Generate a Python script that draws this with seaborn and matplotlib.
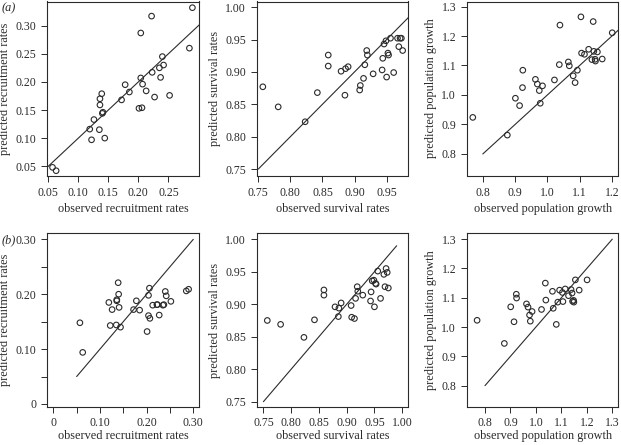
import numpy as np
import pandas as pd
import matplotlib
matplotlib.use("Agg")
import matplotlib.pyplot as plt
import seaborn as sns

sns.set_style("ticks")
plt.rcParams['font.family'] = ['Liberation Serif', 'DejaVu Serif']
plt.rcParams['font.size'] = 8.5

# observed values (shared by both rows)
obs_rec = [0.057, 0.063, 0.119, 0.122, 0.126, 0.135, 0.136, 0.136, 0.139, 0.140, 0.141, 0.144,
           0.172, 0.178, 0.185, 0.201, 0.204, 0.204, 0.206, 0.207, 0.213, 0.222, 0.223, 0.227,
           0.235, 0.237, 0.240, 0.242, 0.252, 0.285, 0.290]
obs_surv = [0.757, 0.781, 0.823, 0.842, 0.859, 0.859, 0.879, 0.885, 0.886, 0.890, 0.908, 0.909,
            0.914, 0.916, 0.919, 0.920, 0.929, 0.943, 0.944, 0.946, 0.949, 0.950, 0.952, 0.953,
            0.956, 0.961, 0.967, 0.969, 0.971, 0.973, 0.975]
obs_grow = [0.769, 0.876, 0.901, 0.914, 0.924, 0.923, 0.963, 0.969, 0.975, 0.978, 0.985, 1.022,
            1.037, 1.039, 1.065, 1.068, 1.080, 1.086, 1.093, 1.104, 1.106, 1.115, 1.128, 1.138,
            1.142, 1.144, 1.148, 1.149, 1.155, 1.170, 1.201]

# (a) predicted
pred_rec_a = [0.048, 0.042, 0.116, 0.097, 0.133, 0.115, 0.170, 0.159, 0.179, 0.144, 0.146, 0.100,
              0.168, 0.195, 0.182, 0.153, 0.287, 0.207, 0.154, 0.196, 0.184, 0.317, 0.217, 0.173,
              0.225, 0.208, 0.245, 0.230, 0.176, 0.260, 0.332]
pred_surv_a = [0.877, 0.846, 0.823, 0.868, 0.926, 0.909, 0.901, 0.864, 0.905, 0.908, 0.872, 0.879,
               0.890, 0.911, 0.933, 0.926, 0.897, 0.903, 0.921, 0.943, 0.948, 0.892, 0.929, 0.926,
               0.952, 0.899, 0.952, 0.939, 0.952, 0.952, 0.933]
pred_grow_a = [0.924, 0.864, 0.989, 0.964, 1.084, 1.025, 1.053, 1.037, 1.015, 0.972, 1.031, 1.051,
               1.103, 1.237, 1.112, 1.099, 1.065, 1.042, 1.084, 1.265, 1.142, 1.138, 1.155, 1.120,
               1.249, 1.148, 1.121, 1.115, 1.146, 1.122, 1.211]

# (b) predicted
pred_rec_b = [0.148, 0.094, 0.185, 0.143, 0.172, 0.144, 0.188, 0.190, 0.221, 0.200, 0.176, 0.140,
              0.172, 0.188, 0.171, 0.132, 0.198, 0.161, 0.211, 0.156, 0.180, 0.181, 0.181, 0.162,
              0.180, 0.181, 0.205, 0.197, 0.187, 0.206, 0.209]
pred_surv_b = [0.875, 0.869, 0.849, 0.876, 0.922, 0.914, 0.896, 0.881, 0.894, 0.902, 0.898, 0.880,
               0.878, 0.909, 0.927, 0.920, 0.914, 0.905, 0.919, 0.936, 0.937, 0.896, 0.932, 0.931,
               0.951, 0.909, 0.946, 0.927, 0.955, 0.949, 0.925]
pred_grow_b = [1.023, 0.944, 1.069, 1.018, 1.099, 1.112, 1.079, 1.068, 1.041, 1.020, 1.053, 1.060,
               1.150, 1.092, 1.122, 1.064, 1.009, 1.085, 1.126, 1.118, 1.087, 1.130, 1.107, 1.128,
               1.116, 1.088, 1.091, 1.085, 1.161, 1.126, 1.161]

# 1:1 reference lines
line_rec_a = [0.04, 0.32]
line_surv_a = [0.75, 1.0]
line_grow_a = [0.8, 1.3]
line_rec_b = [0.05, 0.30]
line_surv_b = [0.75, 0.99]
line_grow_b = [0.8, 1.3]

W, H = 621, 445
fig = plt.figure(figsize=(W / 100, H / 100), dpi=100)


def add_ax(left, right, top, bottom):
    return fig.add_axes([left / W, 1 - bottom / H, (right - left) / W, (bottom - top) / H])


ink = '#2b2b2b'
panels = [
    # frame px, obs, pred, line, xlim, ylim, xticks, yticks, xlab, ylab
    ((47.3, 199, 1.5, 175.5), obs_rec, pred_rec_a, line_rec_a, (0.0483, 0.301), (0.0335, 0.343),
     [0.05, 0.10, 0.15, 0.20, 0.25], [0.05, 0.10, 0.15, 0.20, 0.25, 0.30],
     'observed recruitment rates', 'predicted recruitment rates'),
    ((257.3, 408.3, 1.5, 175.5), obs_surv, pred_surv_a, line_surv_a, (0.7484, 0.9838), (0.7400, 1.0087),
     [0.75, 0.80, 0.85, 0.90, 0.95], [0.75, 0.80, 0.85, 0.90, 0.95, 1.00],
     'observed survival rates', 'predicted survival rates'),
    ((467.3, 618.3, 1.5, 175.5), obs_grow, pred_grow_a, line_grow_a, (0.752, 1.2198), (0.727, 1.317),
     [0.8, 0.9, 1.0, 1.1, 1.2], [0.8, 0.9, 1.0, 1.1, 1.2, 1.3],
     'observed population growth', 'predicted population growth'),
    ((47.3, 199.3, 233.3, 407), obs_rec, pred_rec_b, line_rec_b, (-0.0129, 0.3129), (-0.0055, 0.311),
     [0, 0.05, 0.10, 0.15, 0.20, 0.25, 0.30], [0, 0.05, 0.10, 0.15, 0.20, 0.25, 0.30],
     'observed recruitment rates', 'predicted recruitment rates'),
    ((257.3, 408.3, 233.3, 407), obs_surv, pred_surv_b, line_surv_b, (0.739, 1.011), (0.7418, 1.0092),
     [0.75, 0.80, 0.85, 0.90, 0.95, 1.00], [0.75, 0.80, 0.85, 0.90, 0.95, 1.00],
     'observed survival rates', 'predicted survival rates'),
    ((467.3, 618.3, 233.3, 407), obs_grow, pred_grow_b, line_grow_b, (0.7305, 1.3236), (0.727, 1.320),
     [0.8, 0.9, 1.0, 1.1, 1.2, 1.3], [0.8, 0.9, 1.0, 1.1, 1.2, 1.3],
     'observed population growth', 'predicted population growth'),
]

for i, (frame, obs, pred, line, xlim, ylim, xt, yt, xlab, ylab) in enumerate(panels):
    ax = add_ax(*frame)
    df = pd.DataFrame({'obs': obs, 'pred': pred})
    sns.scatterplot(data=df, x='obs', y='pred', ax=ax, marker='o', s=16,
                    facecolor='none', edgecolor=ink, linewidth=0.8, zorder=3)
    ax.plot(line, line, color=ink, lw=0.8, zorder=2)
    ax.set_xlim(xlim)
    ax.set_ylim(ylim)
    ax.set_xticks(xt)
    ax.set_yticks(yt)
    if i == 3:
        ax.set_xticklabels(['0', '', '0.10', '', '0.20', '', '0.30'])
        ax.set_yticklabels(['0', '', '0.10', '', '0.20', '', '0.30'])
    elif i in (0, 1, 4):
        ax.set_xticklabels([f'{v:.2f}' for v in xt])
        ax.set_yticklabels([f'{v:.2f}' for v in yt])
    else:
        ax.set_xticklabels([f'{v:.1f}' for v in xt])
        ax.set_yticklabels([f'{v:.1f}' for v in yt])
    ax.tick_params(direction='out', length=4.5, width=0.7, color=ink, labelcolor=ink,
                   labelsize=8.5)
    top_row = i < 3
    ax.tick_params(axis='x', pad=3.5 if top_row else 2.5)
    ax.tick_params(axis='y', pad=3.5)
    ax.set_xlabel(xlab, fontsize=8.8, color=ink, labelpad=3 if top_row else 1)
    ax.set_ylabel(ylab, fontsize=8.8, color=ink, labelpad=3)
    for sp in ax.spines.values():
        sp.set_linewidth(0.8)
        sp.set_color(ink)
        sp.set_visible(True)

fig.text(2 / W, 1 - 8 / H, '(a)', fontsize=8.8, color=ink, va='center', style='italic')
fig.text(2 / W, 1 - 240 / H, '(b)', fontsize=8.8, color=ink, va='center', style='italic')

fig.savefig('out.png', dpi=100)
